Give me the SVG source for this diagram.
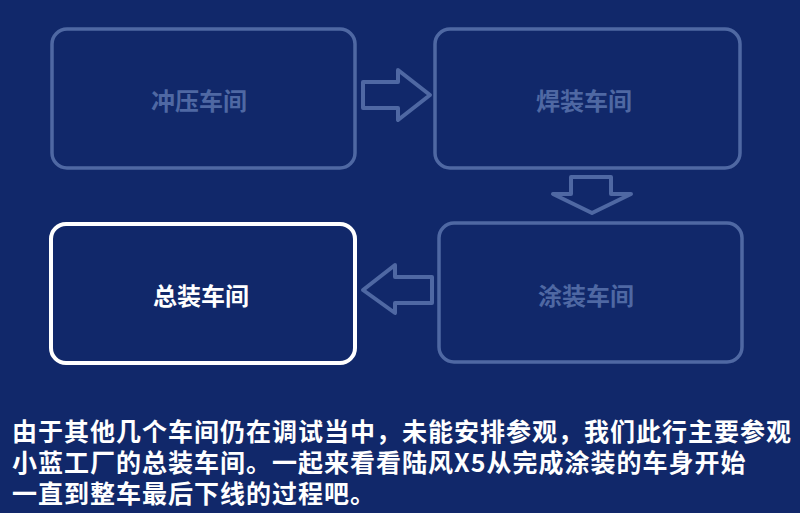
<svg xmlns="http://www.w3.org/2000/svg" width="800" height="513" viewBox="0 0 800 513">
<style>
.box{fill:none;stroke:#4f68a3;stroke-width:3.5}
.cur{fill:none;stroke:#ffffff;stroke-width:4}
.lbl{font-family:"Noto Sans CJK SC","Noto Sans",sans-serif;font-weight:bold;font-size:24px;text-anchor:middle;dominant-baseline:central;fill:#4f68a3}
.lblc{fill:#ffffff}
.arr{fill:none;stroke:#4f68a3;stroke-width:4;stroke-linejoin:round}
.para{font-family:"Noto Sans CJK SC","Noto Sans",sans-serif;font-weight:bold;font-size:25px;letter-spacing:1px;fill:#ffffff}
</style>
<rect width="800" height="513" fill="#11286a"/>
<g id="node-stamping">
<rect class="box" x="52" y="29" width="303" height="139" rx="15"/>
<text class="lbl" x="199" y="99">冲压车间</text>
</g>
<g id="node-welding">
<rect class="box" x="435" y="29" width="305" height="139" rx="15"/>
<text class="lbl" x="584" y="99">焊装车间</text>
</g>
<g id="node-painting">
<rect class="box" x="439" y="223" width="303" height="139" rx="15"/>
<text class="lbl" x="586" y="294">涂装车间</text>
</g>
<g id="node-assembly">
<rect class="cur" x="51" y="224" width="304" height="139" rx="15"/>
<text class="lbl lblc" x="201" y="294">总装车间</text>
</g>
<g id="connectors">
<path class="arr" d="M363 82 H398 V70 L430 95 L398 120 V108 H363 Z"/>
<path class="arr" d="M571 177 H611 V194 H631 L592 213 L553 194 H571 Z"/>
<path class="arr" d="M432 277 H395 V265 L363 290 L395 313 V303 H432 Z"/>
</g>
<g id="caption">
<text class="para"><tspan x="12" y="441">由于其他几个车间仍在调试当中，未能安排参观，我们此行主要参观</tspan><tspan x="12" y="472">小蓝工厂的总装车间。一起来看看陆风X5从完成涂装的车身开始</tspan><tspan x="12" y="503">一直到整车最后下线的过程吧。</tspan></text>
</g>
</svg>
